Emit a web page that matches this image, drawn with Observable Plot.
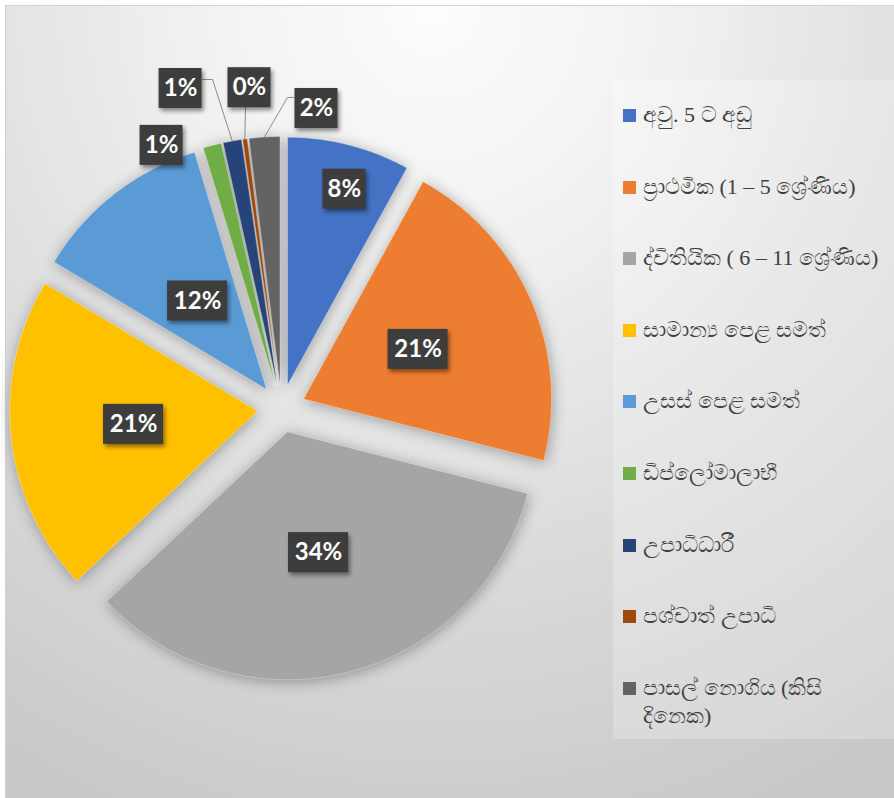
<!DOCTYPE html>
<html>
<head>
<meta charset="utf-8">
<script src="https://cdn.jsdelivr.net/npm/d3@7"></script>
<script src="https://cdn.jsdelivr.net/npm/@observablehq/plot@0.6"></script>
<style>
  html, body { margin: 0; padding: 0; background: #ffffff; }
  #page { position: relative; width: 894px; height: 798px; overflow: hidden; }
  #frame {
    position: absolute; left: 5px; top: 5px; width: 889px; height: 793px;
    border-top: 1px solid #d2d2d2; border-left: 1px solid #d2d2d2;
    background: radial-gradient(ellipse 95% 110% at 48% 0%, #fdfdfd 0%, #f0f0f0 30%, #dcdcdc 62%, #c8c8c8 100%);
  }
  #chart { position: absolute; left: 0; top: 0; }
  #legend {
    position: absolute; left: 613px; top: 80px; width: 281px; height: 659px;
    background: rgba(255, 255, 255, 0.24);
  }
  .item { position: absolute; left: 10px; font-family: "Liberation Serif", serif; font-size: 22px;
          color: #404040; line-height: 28px; white-space: nowrap; }
  .swatch { position: absolute; left: 0; width: 13px; height: 13px; }
  .txt { position: absolute; left: 20px; }
</style>
</head>
<body>
<div id="page">
  <div id="frame"></div>
  <div id="chart"></div>
  <div id="legend"></div>
</div>
<script>
// Education level categories, their shares (%) and the Office palette colours
const categories = [
  "අවු. 5 ට අඩු",
  "ප්‍රාථමික  (1 – 5 ශ්‍රේණිය)",
  "ද්විතියික ( 6 – 11 ශ්‍රේණිය)",
  "සාමාන්‍ය පෙළ සමත්",
  "උසස් පෙළ සමත්",
  "ඩිප්ලෝමාලාභී",
  "උපාධිධාරී",
  "පශ්චාත් උපාධි",
  "පාසල් නොගිය (කිසි දිනෙක)"
];
const shares = [8.0, 21.0, 34.0, 20.6, 11.7, 1.2, 1.2, 0.3, 2.0];
const colors = ["#4472C4", "#ED7D31", "#A5A5A5", "#FFC000", "#5B9BD5", "#70AD47", "#264478", "#9E480E", "#636363"];

// Legend lines (last entry wraps onto two lines)
const legendLines = [
  ["අවු. 5 ට අඩු"],
  ["ප්‍රාථමික  (1 – 5 ශ්‍රේණිය)"],
  ["ද්විතියික ( 6 – 11 ශ්‍රේණිය)"],
  ["සාමාන්‍ය පෙළ සමත්"],
  ["උසස් පෙළ සමත්"],
  ["ඩිප්ලෝමාලාභී"],
  ["උපාධිධාරී"],
  ["පශ්චාත් උපාධි"],
  ["පාසල් නොගිය (කිසි", "දිනෙක)"]
];

// Layout of the pie (pixels) and of the data labels (polar, in pie radii)
const W = 894, H = 798;
const R = 248, CX = 281, CY = 408;
const EXPLODE = 24 / R;
const labelRadius = [0.92, 0.60, 0.60, 0.60, 0.55, 1.166, 1.353, 1.30, 1.218];
const labelAngle  = [16, null, null, null, null, 335.5, 342.5, 354.3, 6.65]; // degrees, null = slice bisector
// Leader line bends, pixel offsets from the label centre (screen y down)
const leaderBends = {6: [[22, -9], [32, -9]], 7: [[-4, 20]], 8: [[-23, -11], [-29, -11]]};

const rows = categories.map((cat, i) => ({cat, share: shares[i], i}));
const arcs = d3.pie().sort(null).value(d => d.share).startAngle(0).endAngle(2 * Math.PI)(rows);

// Slice outlines in pie units (y up), each slice pushed out along its bisector
const slicePts = arcs.flatMap(a => {
  const m = (a.startAngle + a.endAngle) / 2;
  const ox = EXPLODE * Math.sin(m), oy = EXPLODE * Math.cos(m);
  const n = Math.max(2, Math.ceil((a.endAngle - a.startAngle) / 0.01));
  const pts = [{cat: a.data.cat, x: ox, y: oy}];
  for (let k = 0; k <= n; ++k) {
    const t = a.startAngle + (a.endAngle - a.startAngle) * k / n;
    pts.push({cat: a.data.cat, x: ox + Math.sin(t), y: oy + Math.cos(t)});
  }
  pts.push({cat: a.data.cat, x: ox, y: oy});
  return pts;
});

// Data labels
const labels = arcs.map((a, i) => {
  const m = (a.startAngle + a.endAngle) / 2;
  const ang = labelAngle[i] == null ? m : labelAngle[i] * Math.PI / 180;
  const x = labelRadius[i] * Math.sin(ang), y = labelRadius[i] * Math.cos(ang);
  const text = Math.round(a.data.share) + "%";
  const hw = (text.length === 2 ? 43 : 60) / 2 / R, hh = 20 / R;
  return {cat: a.data.cat, text, x, y, x1: x - hw, x2: x + hw, y1: y - hh, y2: y + hh, m,
          ox: EXPLODE * Math.sin(m), oy: EXPLODE * Math.cos(m)};
});

// Leader lines from outside labels to the middle of their slice's rim
const leaderPts = Object.entries(leaderBends).flatMap(([idx, bends]) => {
  const l = labels[+idx];
  const pts = bends.map(([dx, dy]) => ({cat: l.cat, x: l.x + dx / R, y: l.y - dy / R}));
  pts.push({cat: l.cat, x: l.ox + Math.sin(l.m), y: l.oy + Math.cos(l.m)});
  return pts;
});

const chart = Plot.plot({
  width: W, height: H, margin: 0,
  style: {background: "transparent", overflow: "visible"},
  x: {domain: [-1, 1], range: [CX - R, CX + R], axis: null},
  y: {domain: [-1, 1], range: [CY + R, CY - R], axis: null},
  color: {domain: categories, range: colors},
  marks: [
    Plot.line(slicePts, {x: "x", y: "y", z: "cat", fill: "cat", stroke: "#ffffff", strokeOpacity: 0.3, strokeWidth: 1, curve: "linear"}),
    Plot.line(leaderPts, {x: "x", y: "y", z: "cat", stroke: "#8c8c8c", strokeWidth: 1}),
    Plot.rect(labels, {x1: "x1", x2: "x2", y1: "y1", y2: "y2", fill: "#3d3d3d"}),
    Plot.text(labels, {x: "x", y: "y", text: "text", fill: "#ffffff", fontSize: 24, fontWeight: "bold",
                       fontFamily: "Lato, 'Open Sans', sans-serif"})
  ]
});
const groups = chart.querySelectorAll("g[aria-label='line']");
groups[0].style.filter = "drop-shadow(1px 2px 7px rgba(0,0,0,0.32))";
chart.querySelector("g[aria-label='rect']").style.filter = "drop-shadow(2px 3px 2px rgba(0,0,0,0.45))";
document.getElementById("chart").appendChild(chart);

// Legend
const legendTop = 35, legendStep = 71.6;
const legend = d3.select("#legend");
legendLines.forEach((lines, i) => {
  const yc = legendTop + i * legendStep;
  const item = legend.append("div").attr("class", "item").style("top", (yc - 14) + "px");
  item.append("div").attr("class", "swatch").style("background", colors[i]).style("top", "8px");
  lines.forEach((t, j) => item.append("div").attr("class", "txt").style("top", (j * 28) + "px").text(t));
});
</script>
</body>
</html>
